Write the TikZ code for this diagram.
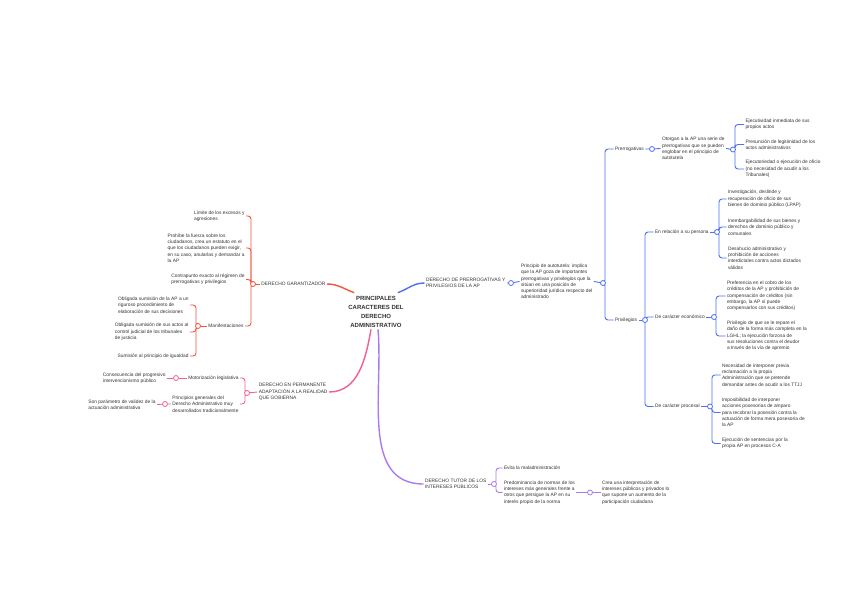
\documentclass[tikz,border=0pt]{standalone}
\usepackage{fontspec}
\setmainfont{Liberation Sans}
\usetikzlibrary{backgrounds}
\definecolor{cred}{HTML}{F2553D}
\definecolor{cpink}{HTML}{F2618F}
\definecolor{cblue}{HTML}{4F70F2}
\definecolor{cpurp}{HTML}{A77CF2}
\definecolor{ctext}{HTML}{333333}
\begin{document}
\begin{tikzpicture}[x=1pt,y=-1pt,
  t/.style={font=\fontsize{4.85}{6.3}\selectfont, text=ctext, align=left, inner sep=1.5pt, outer sep=0pt},
  tr/.style={t, anchor=west},
  tl/.style={t, anchor=east},
  title/.style={font=\fontsize{6}{9}\selectfont\bfseries, text=ctext, align=center, inner sep=2pt},
  jn/.style={circle, draw=#1, fill=white, minimum size=5pt, inner sep=0pt, line width=0.8pt},
  mainln/.style={line width=1.4pt},
  subln/.style={line width=0.9pt, rounded corners=3pt}]
\useasboundingbox (0,0) rectangle (848,600);

% centre
\node[title] (c) at (376,311.5) {PRINCIPALES\\CARACTERES DEL\\DERECHO\\ADMINISTRATIVO};

% ---------- red branch ----------
\node[tl] (dg) at (327,284) {DERECHO GARANTIZADOR};
\node[jn=cred] (jdg) at (253,284) {};
\node[tl] (l1) at (246,216) {Límite de los excesos y\\agresiones};
\node[tl] (l2) at (246,248) {Prohíbe la fuerza sobre los\\ciudadanos, crea un estatuto en el\\que los ciudadanos pueden exigir,\\en su caso, anularlas y demandar a\\la AP};
\node[tl] (l3) at (246,279.5) {Contrapunto exacto al régimen de\\prerrogativas y privilegios};
\node[tl] (man) at (245,326) {Manifestaciones};
\node[jn=cred] (jman) at (198,326) {};
\node[tl] (m1) at (190,305) {Obligada sumisión de la AP a un\\riguroso procedimiento de\\elaboración de sus decisiones};
\node[tl] (m2) at (190,332) {Obligada sumisión de sus actos al\\control judicial de los tribunales\\de justicia};
\node[tl] (m3) at (190,356) {Sumisión al principio de igualdad};

% ---------- pink branch ----------
\node[tl] (dep) at (329,392) {DERECHO EN PERMANENTE\\ADAPTACIÓN A LA REALIDAD\\QUE GOBIERNA};
\node[jn=cpink] (jdep) at (247,393) {};
\node[tl] (mot) at (240,378) {Motorización legislativa};
\node[jn=cpink] (jmot) at (176,378) {};
\node[tl] (cons) at (167,378) {Consecuencia del progresivo\\intervencionismo público};
\node[tl] (pri) at (240,404) {Principios generales del\\Derecho Administrativo muy\\desarrollados tradicionalmente};
\node[jn=cpink] (jpri) at (165,404) {};
\node[tl] (son) at (157,404.5) {Son parámetro de validez de la\\actuación administrativa};

% ---------- blue branch ----------
\node[tr] (dpp) at (424.5,283) {DERECHO DE PRERROGATIVAS Y\\PRIVILEGIOS DE LA AP};
\node[jn=cblue] (jdpp) at (511,283) {};
\node[tr] (auto) at (519.5,281.5) {Principio de autotutela: implica\\que la AP goza de importantes\\prerrogativas y privilegios que la\\sitúan en una posición de\\superioridad jurídica respecto del\\administrado};
\node[jn=cblue] (jauto) at (603,283) {};
\node[tr] (prer) at (613.5,149) {Prerrogativas};
\node[jn=cblue] (jprer) at (652,149) {};
\node[tr] (otor) at (660.5,148.5) {Otorgan a la AP una serie de\\prerrogativas que se pueden\\englobar en el principio de\\autotutela};
\node[jn=cblue] (jotor) at (733,149.5) {};
\node[tr] (e1) at (744,124.5) {Ejecutividad inmediata de sus\\propios actos};
\node[tr] (e2) at (744,144.5) {Presunción de legitimidad de los\\actos administrativos};
\node[tr] (e3) at (744,169) {Ejecutoriedad o ejecución de oficio\\(no necesidad de acudir a los\\Tribunales)};
\node[tr] (priv) at (613.5,320) {Privilegios};
\node[jn=cblue] (jpriv) at (645,320) {};
\node[tr] (pers) at (653.5,232) {En relación a su persona};
\node[jn=cblue] (jpers) at (717,232) {};
\node[tr] (p1) at (726.5,199) {Investigación, deslinde y\\recuperación de oficio de sus\\bienes de dominio público (LPAP)};
\node[tr] (p2) at (726.5,227) {Inembargabilidad de sus bienes y\\derechos de dominio público y\\comunales};
\node[tr] (p3) at (726.5,258) {Desahucio administrativo y\\prohibición de acciones\\interdictales contra actos dictados\\válidos};
\node[tr] (econ) at (653.5,317) {De carácter económico};
\node[jn=cblue] (jecon) at (714,317) {};
\node[tr] (ec1) at (725.5,296) {Preferencia en el cobro de los\\créditos de la AP y prohibición de\\compensación de créditos (sin\\embargo, la AP sí puede\\compensarlos con sus créditos)};
\node[tr] (ec2) at (725.5,336) {Privilegio de que se le repare el\\daño de la forma más completa en la\\LGHL; la ejecución forzosa de\\sus resoluciones contra el deudor\\a través de la vía de apremio};
\node[tr] (proc) at (653.5,406.5) {De carácter procesal};
\node[jn=cblue] (jproc) at (710,406.5) {};
\node[tr] (pr1) at (720.5,375) {Necesidad de interponer previa\\reclamación a la propia\\Administración que se pretende\\demandar antes de acudir a los TTJJ};
\node[tr] (pr2) at (720.5,412.5) {Imposibilidad de interponer\\acciones posesorias de amparo\\para recobrar la posesión contra la\\actuación de forma mera posesoria de\\la AP};
\node[tr] (pr3) at (720.5,443.5) {Ejecución de sentencias por la\\propia AP en procesos C-A};

% ---------- purple branch ----------
\node[tr] (dtu) at (423.5,484) {DERECHO TUTOR DE LOS\\INTERESES PÚBLICOS};
\node[jn=cpurp] (jdtu) at (494,484) {};
\node[tr] (pu1) at (502.5,468) {Evita la maladministración};
\node[tr] (pu2) at (502.5,492.5) {Predominancia de normas de los\\intereses más generales frente a\\otros que persigue la AP en su\\interés propio de la norma};
\node[jn=cpurp] (jpu2) at (590,492.5) {};
\node[tr] (pu3) at (600.5,492.5) {Crea una interpretación de\\intereses públicos y privados lo\\que supone un aumento de la\\participación ciudadana};

\begin{scope}[on background layer]
\fill[white] (0,0) rectangle (848,600);
% main branches
\draw[mainln,cred] ([xshift=8pt,yshift=1pt]c.north west) to[out=160,in=0] (dg.east);
\draw[mainln,cblue] ([xshift=-8pt,yshift=1pt]c.north east) to[out=20,in=180] (dpp.west);
\draw[mainln,cpink] ([xshift=-5pt]c.south) to[out=-100,in=0] (dep.east);
\draw[mainln,cpurp] ([xshift=2pt]c.south) to[out=-85,in=180] (dtu.west);
% red
\draw[subln,cred] (dg.west) -- (jdg);
\foreach \n in {l1,l2,l3,man} \draw[subln,cred] (jdg.center) -- ++(-2,0) |- (\n.east);
\draw[subln,cred] (man.west) -- (jman);
\foreach \n in {m1,m2,m3} \draw[subln,cred] (jman.center) -- ++(-2,0) |- (\n.east);
% pink
\draw[subln,cpink] (dep.west) -- (jdep);
\foreach \n in {mot,pri} \draw[subln,cpink] (jdep.center) -- ++(-2,0) |- (\n.east);
\draw[subln,cpink] (mot.west) -- (jmot) -- (cons.east);
\draw[subln,cpink] (pri.west) -- (jpri) -- (son.east);
% blue
\draw[subln,cblue] (dpp.east) -- (jdpp) -- (auto.west);
\draw[subln,cblue] (auto.east) -- (jauto);
\foreach \n in {prer,priv} \draw[subln,cblue] (jauto.center) -- ++(2,0) |- (\n.west);
\draw[subln,cblue] (prer.east) -- (jprer) -- (otor.west);
\draw[subln,cblue] (otor.east) -- (jotor);
\foreach \n in {e1,e2,e3} \draw[subln,cblue] (jotor.center) -- ++(2,0) |- (\n.west);
\draw[subln,cblue] (priv.east) -- (jpriv);
\foreach \n in {pers,econ,proc} \draw[subln,cblue] (jpriv.center) |- (\n.west);
\draw[subln,cblue] (pers.east) -- (jpers);
\foreach \n in {p1,p2,p3} \draw[subln,cblue] (jpers.center) -- ++(2,0) |- (\n.west);
\draw[subln,cblue] (econ.east) -- (jecon);
\foreach \n in {ec1,ec2} \draw[subln,cblue] (jecon.center) -- ++(2,0) |- (\n.west);
\draw[subln,cblue] (proc.east) -- (jproc);
\foreach \n in {pr1,pr2,pr3} \draw[subln,cblue] (jproc.center) -- ++(2,0) |- (\n.west);
% purple
\draw[subln,cpurp] (dtu.east) -- (jdtu);
\foreach \n in {pu1,pu2} \draw[subln,cpurp] (jdtu.center) -- ++(2,0) |- (\n.west);
\draw[subln,cpurp] (pu2.east) -- (jpu2) -- (pu3.west);
\end{scope}
\end{tikzpicture}
\end{document}
